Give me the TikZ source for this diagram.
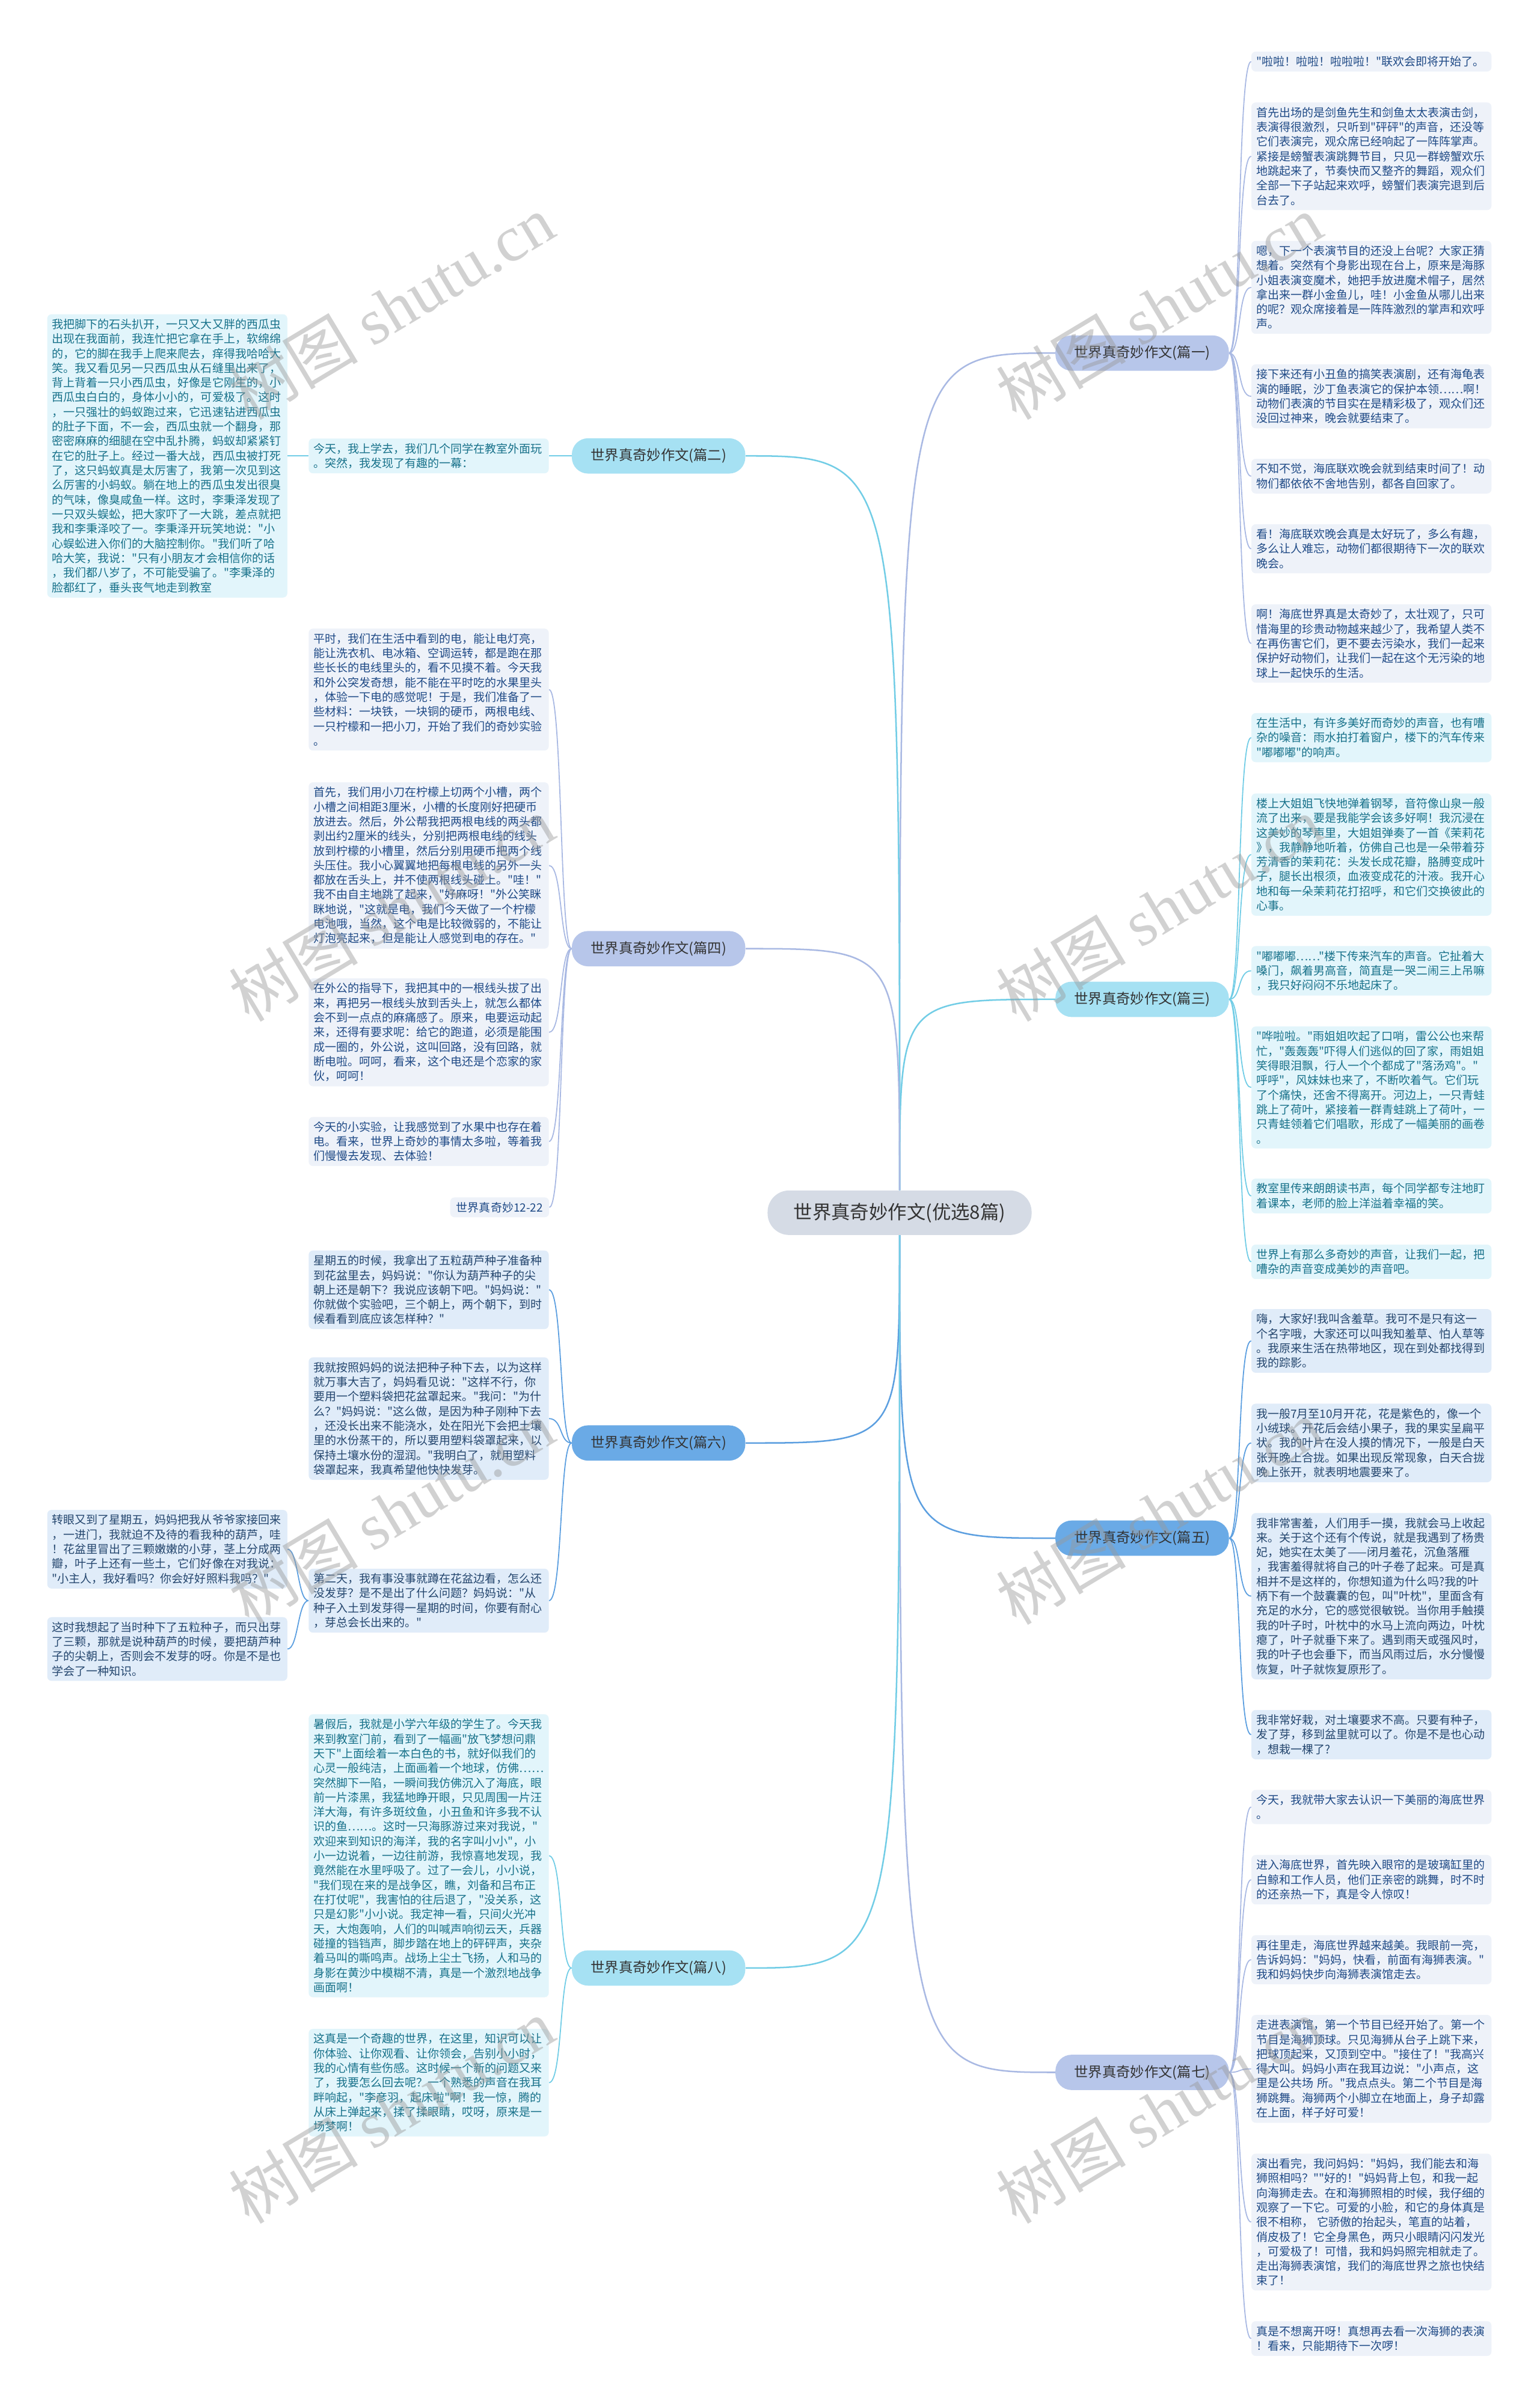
\documentclass[tikz,border=0pt]{standalone}
\usepackage{fontspec}
\setmainfont{Noto Sans CJK SC}[Ligatures=TeXOff]
\newfontfamily\wmserif{Liberation Serif}
\usepackage{tikz}
\usetikzlibrary{backgrounds}

\definecolor{rootfill}{HTML}{D5DBE5}
\definecolor{lavfill}{HTML}{B7C6EA}
\definecolor{cyanfill}{HTML}{A6E1F3}
\definecolor{bluefill}{HTML}{6AAAE6}
\definecolor{lavline}{HTML}{A9B9E3}
\definecolor{cyanline}{HTML}{72CDE6}
\definecolor{blueline}{HTML}{5C9FE0}
\definecolor{lavnote}{HTML}{EEF2F9}
\definecolor{cyannote}{HTML}{E2F5FB}
\definecolor{bluenote}{HTML}{E0ECF9}
\definecolor{lavtext}{HTML}{1F4A86}
\definecolor{cyantext}{HTML}{17718A}
\definecolor{bluetext}{HTML}{24466E}

\begin{document}
\begin{tikzpicture}[x=0.05cm,y=-0.05cm,
          hub/.style={fill=rootfill,rounded corners=20pt,minimum width=8.6cm,minimum height=1.45cm,font=\fontsize{17.5}{20}\selectfont,text=black!80},
          sec/.style={rounded corners=15pt,minimum width=5.65cm,minimum height=1.15cm,font=\fontsize{13}{15}\selectfont,text=black!80},
          note/.style={rounded corners=4pt,text width=7.5cm,inner xsep=0.16cm,inner ysep=0.15cm,align=left,font=\fontsize{10.6}{13.55}\selectfont},
          rnote/.style={note,anchor=west},
          lnote/.style={note,anchor=east},
          lav/.style={fill=lavnote,text=lavtext},
          cya/.style={fill=cyannote,text=cyantext},
          blu/.style={fill=bluenote,text=bluetext},
          link/.style={line width=1.4pt},
          twig/.style={line width=1pt},
          wm/.style={rotate=31,text=black!40,text opacity=0.45,font=\fontsize{60}{66}\selectfont}]
        \useasboundingbox (0,0) rectangle (1003,1568);
        % centre and sections
        \node[hub] (root) at (586,790) {世界真奇妙作文(优选8篇)};
        \node[sec,fill=lavfill]  (p1) at (744,230)  {世界真奇妙作文(篇一)};
        \node[sec,fill=cyanfill] (p2) at (429,297)  {世界真奇妙作文(篇二)};
        \node[sec,fill=cyanfill] (p3) at (744,651)  {世界真奇妙作文(篇三)};
        \node[sec,fill=lavfill]  (p4) at (429,618)  {世界真奇妙作文(篇四)};
        \node[sec,fill=bluefill] (p5) at (744,1002) {世界真奇妙作文(篇五)};
        \node[sec,fill=bluefill] (p6) at (429,940)  {世界真奇妙作文(篇六)};
        \node[sec,fill=lavfill]  (p7) at (744,1350) {世界真奇妙作文(篇七)};
        \node[sec,fill=cyanfill] (p8) at (429,1282) {世界真奇妙作文(篇八)};
        % 篇一
        \node[rnote,lav] (p1a) at (815,40.1) {"啦啦！啦啦！啦啦啦！"联欢会即将开始了。};
        \node[rnote,lav] (p1b) at (815,101.8) {首先出场的是剑鱼先生和剑鱼太太表演击剑，\\
表演得很激烈，只听到"砰砰"的声音，还没等\\
它们表演完，观众席已经响起了一阵阵掌声。\\
紧接是螃蟹表演跳舞节目，只见一群螃蟹欢乐\\
地跳起来了，节奏快而又整齐的舞蹈，观众们\\
全部一下子站起来欢呼，螃蟹们表演完退到后\\
台去了。};
        \node[rnote,lav] (p1c) at (815,187.2) {嗯，下一个表演节目的还没上台呢？大家正猜\\
想着。突然有个身影出现在台上，原来是海豚\\
小姐表演变魔术，她把手放进魔术帽子，居然\\
拿出来一群小金鱼儿，哇！小金鱼从哪儿出来\\
的呢？观众席接着是一阵阵激烈的掌声和欢呼\\
声。};
        \node[rnote,lav] (p1d) at (815,258.2) {接下来还有小丑鱼的搞笑表演剧，还有海龟表\\
演的睡眠，沙丁鱼表演它的保护本领……啊！\\
动物们表演的节目实在是精彩极了，观众们还\\
没回过神来，晚会就要结束了。};
        \node[rnote,lav] (p1e) at (815,310.2) {不知不觉，海底联欢晚会就到结束时间了！动\\
物们都依依不舍地告别，都各自回家了。};
        \node[rnote,lav] (p1f) at (815,357.5) {看！海底联欢晚会真是太好玩了，多么有趣，\\
多么让人难忘，动物们都很期待下一次的联欢\\
晚会。};
        \node[rnote,lav] (p1g) at (815,419.2) {啊！海底世界真是太奇妙了，太壮观了，只可\\
惜海里的珍贵动物越来越少了，我希望人类不\\
在再伤害它们，更不要去污染水，我们一起来\\
保护好动物们，让我们一起在这个无污染的地\\
球上一起快乐的生活。};
        % 篇三
        \node[rnote,cya] (p3a) at (815,480.5) {在生活中，有许多美好而奇妙的声音，也有嘈\\
杂的噪音：雨水拍打着窗户，楼下的汽车传来\\
"嘟嘟嘟"的响声。};
        \node[rnote,cya] (p3b) at (815,556.7) {楼上大姐姐飞快地弹着钢琴，音符像山泉一般\\
流了出来，要是我能学会该多好啊！我沉浸在\\
这美妙的琴声里，大姐姐弹奏了一首《茉莉花\\
》，我静静地听着，仿佛自己也是一朵带着芬\\
芳清香的茉莉花：头发长成花瓣，胳膊变成叶\\
子，腿长出根须，血液变成花的汁液。我开心\\
地和每一朵茉莉花打招呼，和它们交换彼此的\\
心事。};
        \node[rnote,cya] (p3c) at (815,632.4) {"嘟嘟嘟……"楼下传来汽车的声音。它扯着大\\
嗓门，飙着男高音，简直是一哭二闹三上吊嘛\\
，我只好闷闷不乐地起床了。};
        \node[rnote,cya] (p3d) at (815,708.4) {"哗啦啦。"雨姐姐吹起了口哨，雷公公也来帮\\
忙，"轰轰轰"吓得人们逃似的回了家，雨姐姐\\
笑得眼泪飘，行人一个个都成了"落汤鸡"。"\\
呼呼"，风妹妹也来了，不断吹着气。它们玩\\
了个痛快，还舍不得离开。河边上，一只青蛙\\
跳上了荷叶，紧接着一群青蛙跳上了荷叶，一\\
只青蛙领着它们唱歌，形成了一幅美丽的画卷\\
。};
        \node[rnote,cya] (p3e) at (815,779.1) {教室里传来朗朗读书声，每个同学都专注地盯\\
着课本，老师的脸上洋溢着幸福的笑。};
        \node[rnote,cya] (p3f) at (815,822) {世界上有那么多奇妙的声音，让我们一起，把\\
嘈杂的声音变成美妙的声音吧。};
        % 篇五
        \node[rnote,blu] (p5a) at (815,873.5) {嗨，大家好!我叫含羞草。我可不是只有这一\\
个名字哦，大家还可以叫我知羞草、怕人草等\\
。我原来生活在热带地区，现在到处都找得到\\
我的踪影。};
        \node[rnote,blu] (p5b) at (815,940) {我一般7月至10月开花，花是紫色的，像一个\\
小绒球。开花后会结小果子，我的果实呈扁平\\
状。我的叶片在没人摸的情况下，一般是白天\\
张开晚上合拢。如果出现反常现象，白天合拢\\
晚上张开，就表明地震要来了。};
        \node[rnote,blu] (p5c) at (815,1039.8) {我非常害羞，人们用手一摸，我就会马上收起\\
来。关于这个还有个传说，就是我遇到了杨贵\\
妃，她实在太美了——闭月羞花，沉鱼落雁\\
，我害羞得就将自己的叶子卷了起来。可是真\\
相并不是这样的，你想知道为什么吗?我的叶\\
柄下有一个鼓囊囊的包，叫"叶枕"，里面含有\\
充足的水分，它的感觉很敏锐。当你用手触摸\\
我的叶子时，叶枕中的水马上流向两边，叶枕\\
瘪了，叶子就垂下来了。遇到雨天或强风时，\\
我的叶子也会垂下，而当风雨过后，水分慢慢\\
恢复，叶子就恢复原形了。};
        \node[rnote,blu] (p5d) at (815,1130) {我非常好栽，对土壤要求不高。只要有种子，\\
发了芽，移到盆里就可以了。你是不是也心动\\
，想栽一棵了?};
        % 篇七
        \node[rnote,lav] (p7a) at (815,1177.1) {今天，我就带大家去认识一下美丽的海底世界\\
。};
        \node[rnote,lav] (p7b) at (815,1224.5) {进入海底世界，首先映入眼帘的是玻璃缸里的\\
白鲸和工作人员，他们正亲密的跳舞，时不时\\
的还亲热一下，真是令人惊叹！};
        \node[rnote,lav] (p7c) at (815,1276.6) {再往里走，海底世界越来越美。我眼前一亮，\\
告诉妈妈："妈妈，快看，前面有海狮表演。"\\
我和妈妈快步向海狮表演馆走去。};
        \node[rnote,lav] (p7d) at (815,1347.7) {走进表演馆，第一个节目已经开始了。第一个\\
节目是海狮顶球。只见海狮从台子上跳下来，\\
把球顶起来，又顶到空中。"接住了！"我高兴\\
得大叫。妈妈小声在我耳边说："小声点，这\\
里是公共场~所。"我点点头。第二个节目是海\\
狮跳舞。海狮两个小脚立在地面上，身子却露\\
在上面，样子好可爱！};
        \node[rnote,lav] (p7e) at (815,1447.5) {演出看完，我问妈妈："妈妈，我们能去和海\\
狮照相吗？""好的！"妈妈背上包，和我一起\\
向海狮走去。在和海狮照相的时候，我仔细的\\
观察了一下它。可爱的小脸，和它的身体真是\\
很不相称，~它骄傲的抬起头，笔直的站着，\\
俏皮极了！它全身黑色，两只小眼睛闪闪发光\\
，可爱极了！可惜，我和妈妈照完相就走了。\\
走出海狮表演馆，我们的海底世界之旅也快结\\
束了！};
        \node[rnote,lav] (p7f) at (815,1523.4) {真是不想离开呀！真想再去看一次海狮的表演\\
！看来，只能期待下一次啰！};
        % 篇二
        \node[lnote,cya] (p2a) at (357.6,297) {今天，我上学去，我们几个同学在教室外面玩\\
。突然，我发现了有趣的一幕：};
        \node[lnote,cya] (p2b) at (187.3,297) {我把脚下的石头扒开，一只又大又胖的西瓜虫\\
出现在我面前，我连忙把它拿在手上，软绵绵\\
的，它的脚在我手上爬来爬去，痒得我哈哈大\\
笑。我又看见另一只西瓜虫从石缝里出来了，\\
背上背着一只小西瓜虫，好像是它刚生的，小\\
西瓜虫白白的，身体小小的，可爱极了。这时\\
，一只强壮的蚂蚁跑过来，它迅速钻进西瓜虫\\
的肚子下面，不一会，西瓜虫就一个翻身，那\\
密密麻麻的细腿在空中乱扑腾，蚂蚁却紧紧钉\\
在它的肚子上。经过一番大战，西瓜虫被打死\\
了，这只蚂蚁真是太厉害了，我第一次见到这\\
么厉害的小蚂蚁。躺在地上的西瓜虫发出很臭\\
的气味，像臭咸鱼一样。这时，李秉泽发现了\\
一只双头蜈蚣，把大家吓了一大跳，差点就把\\
我和李秉泽咬了一。李秉泽开玩笑地说："小\\
心蜈蚣进入你们的大脑控制你。"我们听了哈\\
哈大笑，我说："只有小朋友才会相信你的话\\
，我们都八岁了，不可能受骗了。"李秉泽的\\
脸都红了，垂头丧气地走到教室};
        % 篇四
        \node[lnote,lav] (p4a) at (357.6,449.2) {平时，我们在生活中看到的电，能让电灯亮，\\
能让洗衣机、电冰箱、空调运转，都是跑在那\\
些长长的电线里头的，看不见摸不着。今天我\\
和外公突发奇想，能不能在平时吃的水果里头\\
，体验一下电的感觉呢！于是，我们准备了一\\
些材料：一块铁，一块铜的硬币，两根电线、\\
一只柠檬和一把小刀，开始了我们的奇妙实验\\
。};
        \node[lnote,lav] (p4b) at (357.6,563.8) {首先，我们用小刀在柠檬上切两个小槽，两个\\
小槽之间相距3厘米，小槽的长度刚好把硬币\\
放进去。然后，外公帮我把两根电线的两头都\\
剥出约2厘米的线头，分别把两根电线的线头\\
放到柠檬的小槽里，然后分别用硬币把两个线\\
头压住。我小心翼翼地把每根电线的另外一头\\
都放在舌头上，并不使两根线头碰上。"哇！"\\
我不由自主地跳了起来，"好麻呀！"外公笑眯\\
眯地说，"这就是电，我们今天做了一个柠檬\\
电池哦，当然，这个电是比较微弱的，不能让\\
灯泡亮起来，但是能让人感觉到电的存在。"};
        \node[lnote,lav] (p4c) at (357.6,672.5) {在外公的指导下，我把其中的一根线头拔了出\\
来，再把另一根线头放到舌头上，就怎么都体\\
会不到一点点的麻痛感了。原来，电要运动起\\
来，还得有要求呢：给它的跑道，必须是能围\\
成一圈的，外公说，这叫回路，没有回路，就\\
断电啦。呵呵，看来，这个电还是个恋家的家\\
伙，呵呵！};
        \node[lnote,lav] (p4d) at (357.6,743.6) {今天的小实验，让我感觉到了水果中也存在着\\
电。看来，世界上奇妙的事情太多啦，等着我\\
们慢慢去发现、去体验！};
        \node[lav,anchor=east,rounded corners=4pt,inner xsep=0.2cm,inner ysep=0.15cm,font=\fontsize{10.6}{13.55}\selectfont] (p4e) at (357.8,786.5) {世界真奇妙12-22};
        % 篇六
        \node[lnote,blu] (p6a) at (357.6,840.2) {星期五的时候，我拿出了五粒葫芦种子准备种\\
到花盆里去，妈妈说："你认为葫芦种子的尖\\
朝上还是朝下？我说应该朝下吧。"妈妈说："\\
你就做个实验吧，三个朝上，两个朝下，到时\\
候看看到底应该怎样种？"};
        \node[lnote,blu] (p6b) at (357.6,924.1) {我就按照妈妈的说法把种子种下去，以为这样\\
就万事大吉了，妈妈看见说："这样不行，你\\
要用一个塑料袋把花盆罩起来。"我问："为什\\
么？"妈妈说："这么做，是因为种子刚种下去\\
，还没长出来不能浇水，处在阳光下会把土壤\\
里的水份蒸干的，所以要用塑料袋罩起来，以\\
保持土壤水份的湿润。"我明白了，就用塑料\\
袋罩起来，我真希望他快快发芽。};
        \node[lnote,blu] (p6c) at (357.6,1042.7) {第二天，我有事没事就蹲在花盆边看，怎么还\\
没发芽？是不是出了什么问题？妈妈说："从\\
种子入土到发芽得一星期的时间，你要有耐心\\
，芽总会长出来的。"};
        \node[lnote,blu] (p6d) at (187.3,1009.2) {转眼又到了星期五，妈妈把我从爷爷家接回来\\
，一进门，我就迫不及待的看我种的葫芦，哇\\
！花盆里冒出了三颗嫩嫩的小芽，茎上分成两\\
瓣，叶子上还有一些土，它们好像在对我说：\\
"小主人，我好看吗？你会好好照料我吗？"};
        \node[lnote,blu] (p6e) at (187.3,1074.2) {这时我想起了当时种下了五粒种子，而只出芽\\
了三颗，那就是说种葫芦的时候，要把葫芦种\\
子的尖朝上，否则会不发芽的呀。你是不是也\\
学会了一种知识。};
        % 篇八
        \node[lnote,cya] (p8a) at (357.6,1208.9) {暑假后，我就是小学六年级的学生了。今天我\\
来到教室门前，看到了一幅画"放飞梦想问鼎\\
天下"上面绘着一本白色的书，就好似我们的\\
心灵一般纯洁，上面画着一个地球，仿佛……\\
突然脚下一陷，一瞬间我仿佛沉入了海底，眼\\
前一片漆黑，我猛地睁开眼，只见周围一片汪\\
洋大海，有许多斑纹鱼，小丑鱼和许多我不认\\
识的鱼……。这时一只海豚游过来对我说，"\\
欢迎来到知识的海洋，我的名字叫小小"，小\\
小一边说着，一边往前游，我惊喜地发现，我\\
竟然能在水里呼吸了。过了一会儿，小小说，\\
"我们现在来的是战争区，瞧，刘备和吕布正\\
在打仗呢"，我害怕的往后退了，"没关系，这\\
只是幻影"小小说。我定神一看，只间火光冲\\
天，大炮轰响，人们的叫喊声响彻云天，兵器\\
碰撞的铛铛声，脚步踏在地上的砰砰声，夹杂\\
着马叫的嘶鸣声。战场上尘土飞扬，人和马的\\
身影在黄沙中模糊不清，真是一个激烈地战争\\
画面啊！};
        \node[lnote,cya] (p8b) at (357.6,1356.7) {这真是一个奇趣的世界，在这里，知识可以让\\
你体验、让你观看、让你领会，告别小小时，\\
我的心情有些伤感。这时候一个新的问题又来\\
了，我要怎么回去呢？一个熟悉的声音在我耳\\
畔响起，"李彦羽，起床啦"啊！我一惊，腾的\\
从床上弹起来，揉了揉眼睛，哎呀，原来是一\\
场梦啊！};
        \begin{scope}[on background layer]
        \fill[white] (0,0) rectangle (1003,1568);
        % centre to sections
        \draw[link,lavline]  (root) .. controls (root |- p1) .. (p1.west);
        \draw[link,cyanline] (root) .. controls (root |- p3) .. (p3.west);
        \draw[link,blueline] (root) .. controls (root |- p5) .. (p5.west);
        \draw[link,lavline]  (root) .. controls (root |- p7) .. (p7.west);
        \draw[link,cyanline] (root) .. controls (root |- p2) .. (p2.east);
        \draw[link,lavline]  (root) .. controls (root |- p4) .. (p4.east);
        \draw[link,blueline] (root) .. controls (root |- p6) .. (p6.east);
        \draw[link,cyanline] (root) .. controls (root |- p8) .. (p8.east);
        % sections to notes
        \foreach \n in {p1a,p1b,p1c,p1d,p1e,p1f,p1g}
          \draw[twig,lavline] (p1.east) .. controls +(8,0) and +(-9,0) .. (\n.west);
        \foreach \n in {p3a,p3b,p3c,p3d,p3e,p3f}
          \draw[twig,cyanline] (p3.east) .. controls +(8,0) and +(-9,0) .. (\n.west);
        \foreach \n in {p5a,p5b,p5c,p5d}
          \draw[twig,blueline] (p5.east) .. controls +(8,0) and +(-9,0) .. (\n.west);
        \foreach \n in {p7a,p7b,p7c,p7d,p7e,p7f}
          \draw[twig,lavline] (p7.east) .. controls +(8,0) and +(-9,0) .. (\n.west);
        \foreach \n in {p4a,p4b,p4c,p4d,p4e}
          \draw[twig,lavline] (p4.west) .. controls +(-8,0) and +(9,0) .. (\n.east);
        \foreach \n in {p6a,p6b,p6c}
          \draw[twig,blueline] (p6.west) .. controls +(-8,0) and +(9,0) .. (\n.east);
        \foreach \n in {p8a,p8b}
          \draw[twig,cyanline] (p8.west) .. controls +(-8,0) and +(9,0) .. (\n.east);
        \draw[twig,cyanline] (p2.west) -- (p2a.east);
        \draw[twig,cyanline] (p2a.west) -- (p2b.east);
        \foreach \n in {p6d,p6e}
          \draw[twig,blueline] (p6c.west) .. controls +(-7,0) and +(7,0) .. (\n.east);
        \end{scope}
        % watermarks
        \foreach \wx/\wy [count=\k] in {255/200,755/200,255/592,755/592,255/985,755/985,255/1375,755/1375}
          \node[wm] (wm\k) at (\wx,\wy) {树图 {\wmserif shutu.cn}};
      \end{tikzpicture}
\end{document}
